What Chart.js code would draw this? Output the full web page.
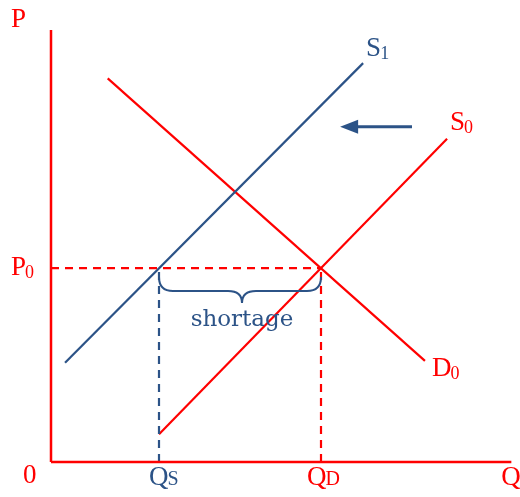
<!DOCTYPE html>
<html>
<head>
<meta charset="utf-8">
<script src="https://cdn.jsdelivr.net/npm/chart.js@4.4.0/dist/chart.umd.min.js"></script>
<style>
  html, body { margin: 0; padding: 0; background: #fff; }
  #wrap { width: 520px; height: 497px; }
</style>
</head>
<body>
<div id="wrap"><canvas id="chart" width="520" height="497"></canvas></div>
<script>
const RED = '#ff0000';
const BLUE = '#2c5387';

// market values (Q on x, P on y)
const P0 = 7;
const QS = 4;
const QD = 10;

// curve end points [Q, P]
const supply0 = [[4, 1], [14.67, 11.67]];
const supply1 = [[0.52, 3.58], [11.56, 14.4]];
const demand0 = [[2.1, 13.85], [13.85, 3.65]];
const shiftArrow = [[13.37, 12.1], [11.3, 12.1]];
const axisEnd = { q: 17.05, p: 15.6 };

function pts(arr) {
  return arr.map(([q, p]) => ({ x: q, y: p }));
}

function line(data, color, width, dash) {
  return {
    data: pts(data),
    showLine: true,
    borderColor: color,
    borderWidth: width,
    borderDash: dash || [],
    pointRadius: 0,
    fill: false,
    tension: 0
  };
}

const FONT = '"Liberation Serif", serif';

function label(ctx, main, sub, left, base, color, capSub) {
  ctx.fillStyle = color;
  ctx.textAlign = 'left';
  ctx.textBaseline = 'alphabetic';
  ctx.font = '27px ' + FONT;
  ctx.fillText(main, left, base);
  if (sub) {
    const w = ctx.measureText(main).width;
    ctx.font = (capSub ? '20px ' : '18px ') + FONT;
    ctx.fillText(sub, left + w - 1, base + (capSub ? 0 : 3));
  }
}

const annotate = {
  id: 'annotate',
  afterDatasetsDraw(chart) {
    const { ctx, scales: { x, y } } = chart;
    const ox = x.getPixelForValue(0), oy = y.getPixelForValue(0);
    const py = y.getPixelForValue(P0);
    const xs = x.getPixelForValue(QS), xd = x.getPixelForValue(QD);
    ctx.save();

    // arrow head
    const a0 = shiftArrow[1];
    const hx = x.getPixelForValue(a0[0]), hy = y.getPixelForValue(a0[1]);
    ctx.fillStyle = BLUE;
    ctx.beginPath();
    ctx.moveTo(hx + 2, hy - 7);
    ctx.lineTo(hx - 16, hy);
    ctx.lineTo(hx + 2, hy + 7);
    ctx.closePath();
    ctx.fill();

    // brace under the shortage
    const top = py + 9, mid = top + 14, tip = mid + 12, r = 14;
    const xm = (xs + xd) / 2 + 2;
    ctx.strokeStyle = BLUE;
    ctx.lineWidth = 2;
    ctx.beginPath();
    ctx.moveTo(xs, top);
    ctx.quadraticCurveTo(xs, mid, xs + r, mid);
    ctx.lineTo(xm - r, mid);
    ctx.quadraticCurveTo(xm, mid, xm, tip);
    ctx.quadraticCurveTo(xm, mid, xm + r, mid);
    ctx.lineTo(xd - r, mid);
    ctx.quadraticCurveTo(xd, mid, xd, top);
    ctx.stroke();

    ctx.fillStyle = BLUE;
    ctx.font = '23px "DejaVu Serif", serif';
    ctx.textAlign = 'center';
    ctx.fillText('shortage', xm, py + 58);

    // axis labels
    label(ctx, 'P', '', ox - 40, y.getPixelForValue(axisEnd.p) - 3, RED);
    label(ctx, '0', '', ox - 28, oy + 21, RED);
    label(ctx, 'Q', '', x.getPixelForValue(axisEnd.q) - 10, oy + 23, RED);
    label(ctx, 'P', '0', ox - 40, py + 7, RED);
    label(ctx, 'Q', 'S', xs - 10, oy + 23, BLUE, true);
    label(ctx, 'Q', 'D', xd - 14, oy + 23, RED, true);

    // curve labels
    const s1 = supply1[1], s0 = supply0[1], d0 = demand0[1];
    label(ctx, 'S', '1', x.getPixelForValue(s1[0]) + 3, y.getPixelForValue(s1[1]) - 7, BLUE);
    label(ctx, 'S', '0', x.getPixelForValue(s0[0]) + 3, y.getPixelForValue(s0[1]) - 9, RED);
    label(ctx, 'D', '0', x.getPixelForValue(d0[0]) + 7, y.getPixelForValue(d0[1]) + 15, RED);
    ctx.restore();
  }
};

new Chart(document.getElementById('chart'), {
  type: 'scatter',
  data: {
    datasets: [
      line([[0, 0], [0, axisEnd.p]], RED, 2.5),
      line([[0, 0], [axisEnd.q, 0]], RED, 2.5),
      line([[0, P0], [QD, P0]], RED, 2.2, [8, 6]),
      line([[QS, 0], [QS, P0]], BLUE, 2.2, [8, 6]),
      line([[QD, 0], [QD, P0]], RED, 2.2, [8, 6]),
      line(supply1, BLUE, 2.2),
      line(supply0, RED, 2.2),
      line(demand0, RED, 2.2),
      line(shiftArrow, BLUE, 3)
    ]
  },
  options: {
    responsive: false,
    animation: false,
    layout: { padding: 0 },
    plugins: { legend: { display: false }, tooltip: { enabled: false } },
    scales: {
      x: { type: 'linear', display: false, min: -51 / 27, max: 469 / 27 },
      y: { type: 'linear', display: false, min: -35 / 27.7, max: 462 / 27.7 }
    }
  },
  plugins: [annotate]
});
</script>
</body>
</html>
